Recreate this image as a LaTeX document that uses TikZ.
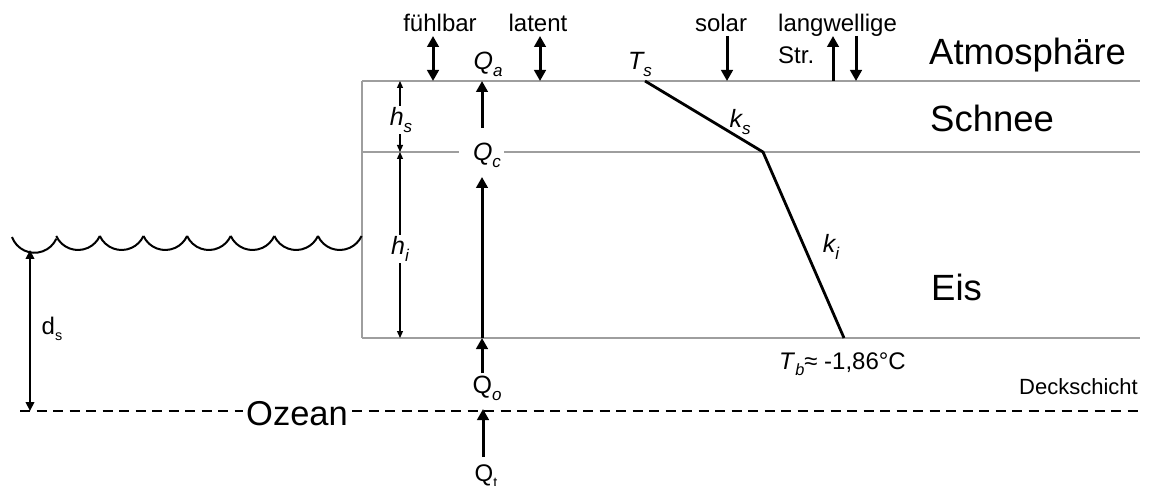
\documentclass[tikz,border=0pt]{standalone}
\usepackage{fontspec}
\setmainfont{Liberation Sans}
\usetikzlibrary{arrows.meta}
\newcommand\lsub[2][0.68]{\raisebox{-0.28em}{\scalebox{#1}{#2}}}
\begin{document}
\begin{tikzpicture}[x=1pt,y=-1pt,
  greyline/.style={draw=black!38, line width=1.8pt},
  fluxarrow/.style={line width=3pt, -{Triangle[length=11pt,width=11.5pt]}},
  fluxboth/.style={line width=3pt, {Triangle[length=11pt,width=11.5pt]}-{Triangle[length=11pt,width=11.5pt]}},
  dimarrow/.style={line width=1.2pt, {Triangle[length=7pt,width=6pt]}-{Triangle[length=7pt,width=6pt]}},
  depth/.style={line width=2.2pt, {Triangle[length=9pt,width=8.5pt]}-{Triangle[length=9pt,width=8.5pt]}},
  profile/.style={line width=2.8pt, line join=miter},
  oceanline/.style={line width=2.2pt, dash pattern=on 10pt off 6.5pt},
  wave/.style={line width=2pt},
  big/.style={font=\fontsize{36.5}{42}\selectfont, inner sep=0pt},
  small/.style={font=\fontsize{24}{28}\selectfont, inner sep=0pt},
  sym/.style={font=\fontsize{25}{30}\selectfont\itshape, inner sep=0pt},
  tiny/.style={font=\fontsize{22}{26}\selectfont, inner sep=0pt}
]
\clip (0,0) rectangle (1153,486);
\fill[white] (0,0) rectangle (1153,486);

% grey layer boundaries
\coordinate (tl) at (362,81);
\coordinate (tr) at (1140,81);
\coordinate (ml) at (362,152);
\coordinate (mg1) at (459,152);
\coordinate (mg2) at (504,152);
\coordinate (mr) at (1140,152);
\coordinate (bl) at (362,338);
\coordinate (br) at (1140,338);
\draw[greyline] (tl) -- (tr);
\draw[greyline] (ml) -- (mg1);
\draw[greyline] (mg2) -- (mr);
\draw[greyline] (bl) -- (br);
\draw[greyline] (tl) -- (bl);

% sea surface waves
\draw[wave] (12,237) arc[start angle=160, end angle=24.6, radius=23.97];
\foreach \i in {1,...,7}
  \draw[wave] ({12.6+43.625*\i},236) arc[start angle=155.4, end angle=24.6, radius=23.97];

% ocean mixed-layer base (dashed)
\node[big, anchor=base, font=\fontsize{34.5}{40}\selectfont] (ozean) at (297,425) {Ozean};
\coordinate (dl1) at (20,411);
\coordinate (dl2) at (1140,411);
\draw[oceanline] (dl1) -- ([xshift=-3pt]ozean.west |- dl1);
\draw[oceanline] ([xshift=4pt]ozean.east |- dl1) -- (dl2);

% d_s
\coordinate (ds1) at (30,250);
\coordinate (ds2) at (30,411);
\draw[depth] (ds1) -- (ds2);
\node[small, anchor=base] (dslab) at (52,334) {d\lsub[0.6]{s}};

% labels top
\node[small, anchor=base] (fuehl) at (440,32) {fühlbar};
\node[small, anchor=base] (lat) at (538,32) {latent};
\node[small, anchor=base] (sol) at (721,32) {solar};
\node[small, anchor=base west] (lang) at (778,32) {langwellige};
\node[small, anchor=base west] (str) at (778,64) {Str.};

\coordinate (f1) at (433,36); \coordinate (f2) at (433,81);
\draw[fluxboth] (f1) -- (f2);
\coordinate (l1) at (540,36); \coordinate (l2) at (540,81);
\draw[fluxboth] (l1) -- (l2);
\coordinate (s1) at (727,36); \coordinate (s2) at (727,81);
\draw[fluxarrow] (s1) -- (s2);
\coordinate (u1) at (833,81); \coordinate (u2) at (833,36);
\draw[fluxarrow] (u1) -- (u2);
\coordinate (d1) at (856,36); \coordinate (d2) at (856,81);
\draw[fluxarrow] (d1) -- (d2);

% layer names
\node[big, anchor=base west] (atm) at (929,65) {Atmosphäre};
\node[big, anchor=base west] (schnee) at (930,132) {Schnee};
\node[big, anchor=base west] (eis) at (931,300) {Eis};
\node[tiny, anchor=base east] (deck) at (1138,394) {Deckschicht};

% heat fluxes
\node[sym, anchor=base] (qa) at (488,70) {Q\lsub{a}};
\node[sym, anchor=base] (qc) at (487,161) {Q\lsub{c}};
\node[sym, anchor=base] (qo) at (487,393) {\upshape Q\lsub{\itshape o}};
\node[sym, anchor=base, font=\fontsize{24}{28}\selectfont] (qt) at (486,481) {Q\lsub[0.6]{t}};
\coordinate (qc1) at (482,128); \coordinate (qc2) at (482,81);
\draw[fluxarrow] (qc1) -- (qc2);
\coordinate (qi1) at (482,338); \coordinate (qi2) at (482,177);
\draw[fluxarrow] (qi1) -- (qi2);
\coordinate (qo1) at (482,373); \coordinate (qo2) at (482,338);
\draw[fluxarrow] (qo1) -- (qo2);
\coordinate (qt1) at (483,457); \coordinate (qt2) at (483,409);
\draw[fluxarrow] (qt1) -- (qt2);

% thicknesses
\coordinate (hs1) at (400,81); \coordinate (hs2) at (400,152);
\coordinate (hi1) at (400,152); \coordinate (hi2) at (400,338);
\draw[dimarrow] (hs1) -- (hs2);
\draw[dimarrow] (hi1) -- (hi2);
\node[sym, fill=white, inner sep=1pt] (hslab) at (401,120) {h\lsub{s}};
\node[sym, fill=white, inner sep=1pt] (hilab) at (400,249) {h\lsub{i}};

% temperature profile
\coordinate (p1) at (645,81);
\coordinate (p2) at (763,152);
\coordinate (p3) at (844,338);
\draw[profile] (p1) -- (p2) -- (p3);
\node[sym, anchor=base] (ts) at (640,70) {T\lsub{s}};
\node[sym] (ks) at (740,122) {k\lsub{s}};
\node[sym] (ki) at (831,247) {k\lsub{i}};
\node[small, anchor=base west] (tb) at (779,369) {\textit{T}\lsub{\itshape b}≈ -1,86°C};
\end{tikzpicture}
\end{document}
